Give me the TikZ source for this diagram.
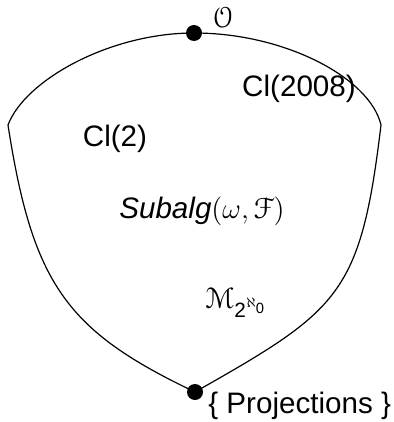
\documentclass[tikz,border=0pt]{standalone}
\usepackage{amsmath,amssymb}
\usepackage[mathcal]{eucal}
\usepackage{fontspec}
\setmainfont{Liberation Sans}
\usetikzlibrary{positioning}

\tikzset{
  pointdot/.style={circle,fill=black,inner sep=0pt,minimum size=8pt},
  regionlabel/.style={font=\fontsize{14.8}{17}\selectfont,inner sep=0pt,anchor=base},
  boundary/.style={line width=0.6pt}
}

\begin{document}
\begin{tikzpicture}[x=0.5pt,y=-0.5pt]
  \useasboundingbox (0,0) rectangle (394,422);
  % corners of the region
  \coordinate (topvertex)    at (194,33);
  \coordinate (bottomvertex) at (195,392);
  \coordinate (leftcorner)   at (8,125);
  \coordinate (rightcorner)  at (381,125);
  \draw[boundary] (leftcorner) .. controls (25,80) and (110,33) .. (topvertex)
    .. controls (285,33) and (370,78) .. (rightcorner)
    .. controls (360.6,295) and (339.5,310) .. (bottomvertex)
    .. controls (67,331) and (32.8,285) .. (leftcorner);
  \node[pointdot] (topdot)    at (topvertex) {};
  \node[pointdot] (bottomdot) at (bottomvertex) {};
  % labels
  \node[regionlabel] (ordinal)  at (223,28)  {$\mathcal{O}$};
  \node[regionlabel] (clbig)    at (299,97)  {Cl(2008)};
  \node[regionlabel] (clsmall)  at (115,147) {Cl(2)};
  \node[regionlabel] (subalg)   at (202,218) {\textit{Subalg}$(\omega,\mathcal{F})$};
  \node[regionlabel,anchor=base west] (matrices) at (205,308) {$\mathcal{M}_{\text{2}^{\aleph_{\text{0}}}}$};
  \node[regionlabel,anchor=base west] (projections) at (208,413) {\{ Projections \}};
\end{tikzpicture}
\end{document}
